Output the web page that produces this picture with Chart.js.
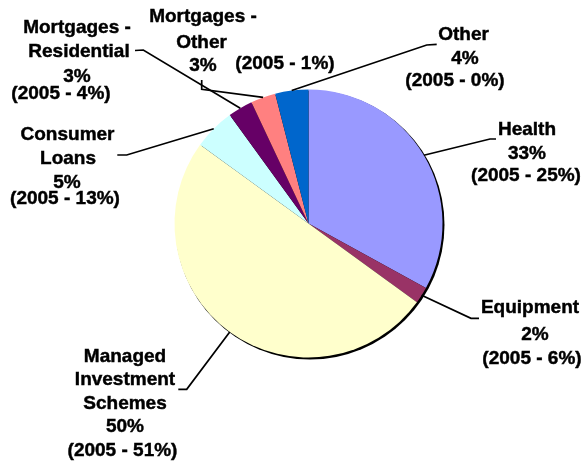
<!DOCTYPE html>
<html><head><meta charset="utf-8">
<script src="https://cdn.jsdelivr.net/npm/chart.js@4/dist/chart.umd.min.js"></script>
<style>html,body{margin:0;padding:0;background:#fff}#wrap{width:585px;height:463px}</style>
</head><body><div id="wrap"><canvas id="c" width="585" height="463"></canvas></div>
<script>
// ---- data ----
const categories = ["Health","Equipment","Managed Investment Schemes","Consumer Loans","Mortgages - Residential","Mortgages - Other","Other"];
const share2006 = [33, 2, 50, 5, 3, 3, 4];
const share2005 = [25, 6, 51, 13, 4, 1, 0];
const nameLines = [["Health"],["Equipment"],["Managed","Investment","Schemes"],["Consumer","Loans"],["Mortgages -","Residential"],["Mortgages -","Other"],["Other"]];

// ---- style / layout ----
const colors = ["#9999FF","#993366","#FFFFCC","#CCFFFF","#660066","#FF8080","#0066CC"];
// text line positions [centerX, baseline] for each label line (names..., pct, 2005)
const labelPos = [
  [[527,135],[527,159],[526,181]],
  [[530,313],[535,340],[532,364]],
  [[125,362],[125,385],[125,409],[125,432],[122.5,456]],
  [[67.5,140],[68,164],[67,188],[65,204]],
  [[77,33],[79,57],[77,82],[61,99]],
  [[203,22],[201.5,48],[203,71],[285,69]],
  [[463.5,40],[465,64],[455,86]]
];
// leader line points after the anchor on the slice edge
const leaderPts = [
  [[490,139],[496,139]],
  [[471,318.3],[479,318.3]],
  [[186.7,389.3],[178.3,389.3]],
  [[126.7,155],[117.3,155]],
  [[143.3,50],[135,50.5]],
  [[201.7,89.3],[201.7,80]],
  [[426.7,45],[436.7,44.3]]
];

const shadowPlugin = {
  id: 'shadow',
  beforeDatasetsDraw(chart) {
    const a = chart.getDatasetMeta(0).data[0];
    if (!a) return;
    const ctx = chart.ctx;
    ctx.save();
    ctx.fillStyle = '#000';
    ctx.beginPath();
    ctx.arc(a.x + 1.5, a.y + 1.5, a.outerRadius + 0.5, 0, Math.PI * 2);
    ctx.fill();
    ctx.restore();
  }
};

const labelPlugin = {
  id: 'labels',
  afterDatasetsDraw(chart) {
    const ctx = chart.ctx;
    const meta = chart.getDatasetMeta(0);
    ctx.save();
    ctx.strokeStyle = '#000';
    ctx.lineWidth = 1.7;
    ctx.fillStyle = '#000';
    ctx.font = 'bold 19px "Liberation Sans", Arial, sans-serif';
    ctx.textAlign = 'center';
    ctx.textBaseline = 'alphabetic';
    meta.data.forEach((arc, i) => {
      const mid = (arc.startAngle + arc.endAngle) / 2;
      const r = arc.outerRadius;
      const sx = arc.x + Math.cos(mid) * r;
      const sy = arc.y + Math.sin(mid) * r;
      ctx.lineWidth = 1.7;
      ctx.beginPath();
      ctx.moveTo(sx, sy);
      leaderPts[i].forEach(p => ctx.lineTo(p[0], p[1]));
      ctx.stroke();
      const lines = nameLines[i].concat([share2006[i] + '%', '(2005 - ' + share2005[i] + '%)']);
      ctx.lineWidth = 0.45;
      lines.forEach((t, j) => {
        const p = labelPos[i][j];
        ctx.fillText(t, p[0], p[1]);
        ctx.strokeText(t, p[0], p[1]);
      });
    });
    ctx.restore();
  }
};

new Chart(document.getElementById('c'), {
  type: 'pie',
  data: {
    labels: categories,
    datasets: [{
      data: share2006,
      backgroundColor: colors,
      borderWidth: 0
    }]
  },
  options: {
    responsive: false,
    animation: false,
    devicePixelRatio: 1,
    layout: { padding: { top: 89.5, bottom: 105.5, left: 174.5, right: 142.5 } },
    plugins: { legend: { display: false }, tooltip: { enabled: false } }
  },
  plugins: [shadowPlugin, labelPlugin]
});
</script>
</body></html>
